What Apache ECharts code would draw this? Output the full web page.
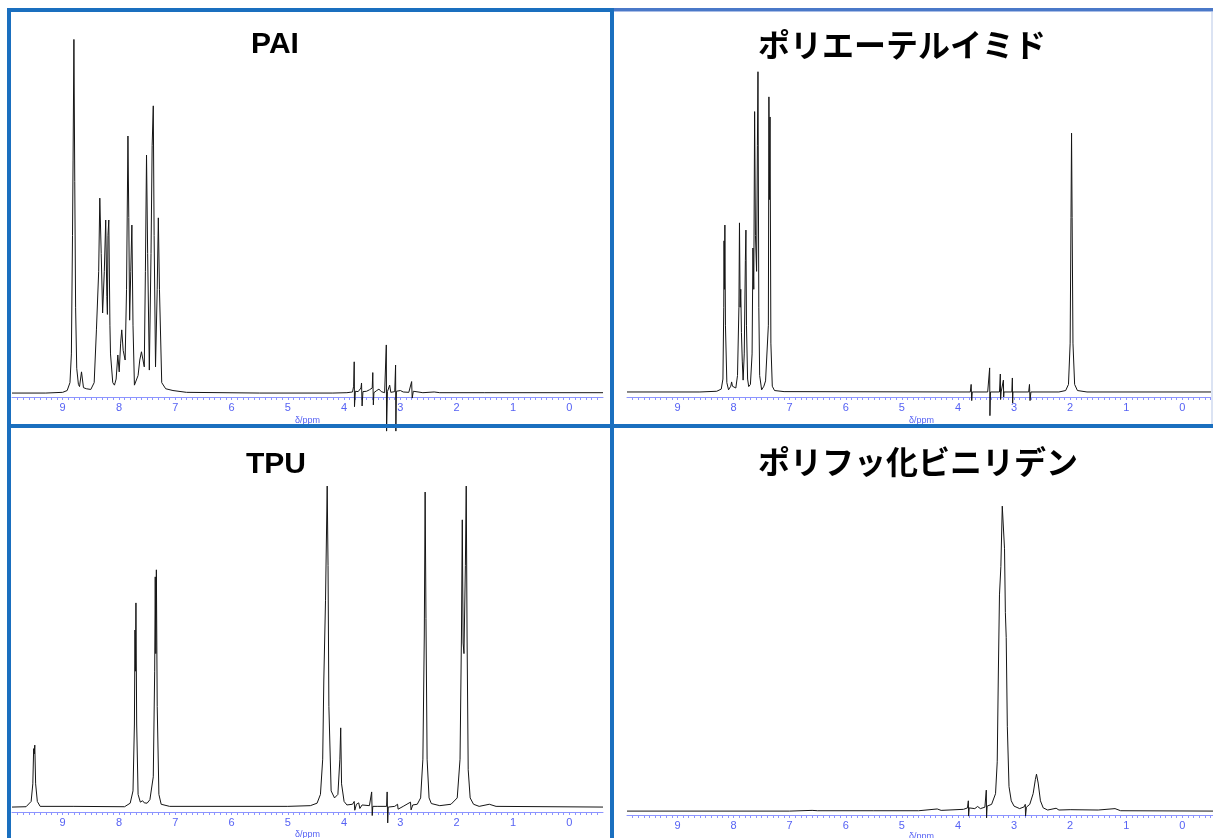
<!DOCTYPE html>
<html>
<head>
<meta charset="utf-8">
<script src="https://cdn.jsdelivr.net/npm/echarts@6/dist/echarts.min.js"></script>
<style>
html,body{margin:0;padding:0;background:#fff;}
#c{width:1213px;height:838px;}
</style>
</head>
<body>
<div id="c"></div>
<script>
// Panel titles
const TITLES = ['PAI', 'ポリエーテルイミド', 'TPU', 'ポリフッ化ビニリデン'];
// Tick labels on the chemical-shift axis (ppm)
const TICK_LABELS = ['0','1','2','3','4','5','6','7','8','9'];
const PPM_MIN = -0.6, PPM_MAX = 9.9;

// [chemical shift (ppm), relative intensity (% of panel height)]
const PAI = [
 [9.9,1.1],[9.3,1.1],[9.0,1.3],[8.92,1.8],[8.87,4],[8.845,12],[8.825,45],[8.815,66],[8.80,99.6],[8.785,60],[8.77,25],[8.75,8],[8.72,3.5],[8.70,2.9],
 [8.665,7.0],[8.63,2.6],[8.58,2.3],[8.50,2.1],[8.44,4],[8.40,18.7],[8.36,35],[8.34,55.4],[8.315,40],[8.29,23.4],[8.26,35],[8.235,49.3],[8.215,28],
 [8.205,23],[8.195,45],[8.18,49.3],[8.16,20],[8.15,12],[8.11,4],[8.08,3.3],[8.05,5],[8.02,11.7],[7.995,7],[7.97,15],[7.95,18.7],[7.925,13],[7.89,10.3],
 [7.865,30],[7.84,72.7],[7.825,50],[7.81,21.4],[7.79,35],[7.77,47.9],[7.75,20],[7.725,3.3],[7.695,2.9],[7.66,6],[7.63,10.3],[7.60,12.6],[7.57,12.6],
 [7.55,8.4],[7.53,35],[7.51,67.4],[7.49,40],[7.46,7.5],[7.43,40],[7.41,70],[7.39,81.1],[7.375,45],[7.35,8.4],[7.32,30],[7.30,49.9],[7.28,30],[7.24,4],
 [7.17,2.3],[7.04,1.8],[6.8,1.3],[5.5,1.1],[4.2,1.1],[3.95,1.2],[3.85,1.4],[3.83,3],[3.82,9.8],[3.815,-2.7],[3.80,1.6],[3.75,1.5],[3.70,2.5],[3.69,3.9],
 [3.68,-2.5],[3.665,1.5],[3.60,1.6],[3.55,2.0],[3.50,2.5],[3.49,6.8],[3.48,-2.2],[3.47,1.2],[3.42,1.8],[3.38,2.2],[3.34,1.5],[3.28,1.2],[3.25,14.5],
 [3.245,-9.5],[3.23,1.5],[3.19,3.3],[3.17,1.3],[3.10,1.5],[3.085,8.9],[3.08,-9.5],[3.07,1.6],[3.00,1.8],[2.95,1.4],[2.85,1.3],[2.80,4.3],[2.79,-0.3],
 [2.77,1.6],[2.74,1.3],[2.6,1.2],[2.4,1.4],[2.37,1.6],[2.3,1.2],[1.5,1.2],[-0.6,1.2]
];
const PEI = [
 [9.9,1.4],[8.6,1.4],[8.3,1.6],[8.22,2.2],[8.19,5],[8.175,25],[8.17,43.5],[8.163,30],[8.155,47.9],[8.145,20],[8.12,4],[8.09,2],[8.05,3],[8.035,4.2],
 [8.02,3],[7.96,2.5],[7.93,6],[7.905,25],[7.895,48.5],[7.883,25],[7.872,30],[7.86,18],[7.845,10],[7.83,4.7],[7.81,12],[7.79,38],[7.78,46.5],[7.77,20],
 [7.75,5],[7.73,2.9],[7.70,3.5],[7.67,12],[7.655,41.5],[7.64,30],[7.625,79.5],[7.61,45],[7.59,35],[7.575,70],[7.565,90.6],[7.55,25],[7.535,6],[7.50,2],
 [7.46,3],[7.43,4.5],[7.40,5],[7.38,20],[7.37,83.6],[7.36,55],[7.35,78],[7.335,15],[7.31,3],[7.27,1.8],[7.1,1.5],[4.0,1.4],[3.78,1.4],[3.765,3.5],
 [3.755,-1],[3.745,1.4],[3.47,1.4],[3.435,8.1],[3.43,-5.2],[3.42,1.4],[3.26,1.4],[3.245,6.4],[3.24,-0.7],[3.23,1.4],[3.20,1.4],[3.19,4.7],[3.185,0],
 [3.18,1.4],[3.04,1.4],[3.03,5.3],[3.025,-1.7],[3.02,1.4],[2.74,1.4],[2.725,3.5],[2.715,-1],[2.70,1.4],[2.2,1.4],[2.08,1.8],[2.03,3.5],[2.0,15],
 [1.985,50],[1.975,73.5],[1.965,50],[1.95,15],[1.92,3.5],[1.87,1.8],[1.7,1.4],[-0.6,1.4]
];
const TPU = [
 [9.9,1.4],[9.65,1.5],[9.56,3],[9.53,8],[9.515,18],[9.505,16.5],[9.495,19],[9.48,8],[9.45,3],[9.40,1.6],[8.8,1.6],[7.9,1.5],[7.80,2.5],[7.75,6],
 [7.725,25],[7.715,51.7],[7.707,40],[7.698,59.4],[7.685,25],[7.66,5],[7.62,2.8],[7.58,3.2],[7.55,2.6],[7.50,2.5],[7.45,3.5],[7.39,10],[7.365,40],
 [7.355,66.8],[7.345,45],[7.335,68.8],[7.32,30],[7.29,5],[7.25,2.2],[7.1,1.6],[5.0,1.6],[4.6,1.8],[4.48,2.5],[4.42,5],[4.38,15],[4.36,37.5],[4.33,60],
 [4.30,92.6],[4.285,70],[4.27,30],[4.23,6],[4.17,4],[4.11,5],[4.075,15],[4.06,23.9],[4.045,8],[4.0,3],[3.95,2],[3.85,2.2],[3.82,3],[3.81,0.5],[3.78,2.2],
 [3.74,2.6],[3.72,1.0],[3.68,2],[3.55,1.8],[3.51,5.7],[3.50,-1],[3.49,1.6],[3.40,1.6],[3.245,1.6],[3.235,5.7],[3.225,-3.1],[3.215,1.4],[3.10,1.6],
 [3.05,2.2],[3.04,0.8],[2.95,1.6],[2.82,2.8],[2.81,0.6],[2.78,2],[2.70,2.2],[2.64,4],[2.60,15],[2.575,50],[2.56,90.9],[2.545,55],[2.525,15],[2.49,4],
 [2.45,2.4],[2.30,1.8],[2.10,2.2],[1.99,4],[1.94,15],[1.915,50],[1.90,83],[1.885,48],[1.87,45],[1.845,70],[1.83,92.6],[1.815,50],[1.795,12],[1.76,4],
 [1.70,2.2],[1.6,1.6],[1.42,2.2],[1.30,1.6],[-0.6,1.4]
];
const PVDF = [
 [9.9,1.1],[7.0,1.1],[6.6,1.3],[6.5,1.2],[5.5,1.2],[4.7,1.2],[4.37,1.7],[4.3,1.3],[3.9,1.6],[3.83,2.0],[3.815,4],[3.81,-0.3],[3.80,2],[3.70,1.8],
 [3.65,2.4],[3.6,1.8],[3.52,2.2],[3.495,7],[3.49,-0.8],[3.48,2.5],[3.40,3],[3.33,6],[3.30,15],[3.28,40],[3.26,62],[3.235,70],[3.21,87],[3.19,87],
 [3.17,75],[3.155,57],[3.14,50],[3.12,25],[3.09,8],[3.05,4],[3.0,2.5],[2.90,1.8],[2.82,2.3],[2.80,3.0],[2.795,-0.3],[2.78,2.2],[2.72,3],[2.66,6],
 [2.62,10],[2.60,11.5],[2.57,9],[2.53,4],[2.48,2],[2.40,1.4],[2.25,1.9],[2.2,1.4],[2.0,1.5],[1.5,1.4],[1.2,1.8],[1.1,1.2],[-0.6,1.1]
];
const SPECTRA = [PAI, PEI, TPU, PVDF];

const GRIDS = [
 {left:12, top:38, width:591, height:359},
 {left:627, top:38, width:589, height:359},
 {left:12, top:460, width:591, height:352},
 {left:627, top:460, width:589, height:355}
];
const NAME_GAPS = [19, 19, 18, 16];
const TITLE_FONT_LATIN = 'bold 30px "Liberation Sans", Arial, sans-serif';
const TITLE_FONT_JP = 'bold 32px "Noto Sans CJK JP", sans-serif';
const TITLE_POS = [[275,45,TITLE_FONT_LATIN],[902,45,TITLE_FONT_JP],[276,465,TITLE_FONT_LATIN],[918,462,TITLE_FONT_JP]];

const AXIS_BLUE = '#8c94ff';
const LABEL_BLUE = '#5662f4';

function labelFor(v){
  const r = Math.round(v);
  if (Math.abs(v - r) < 1e-6) { const t = TICK_LABELS[r]; return t === undefined ? '' : t; }
  return '';
}

const xAxes = GRIDS.map((g,i)=>({
  type:'value', gridIndex:i, inverse:true, min:PPM_MIN, max:PPM_MAX, interval:0.1,
  axisLine:{show:true, onZero:false, lineStyle:{color:AXIS_BLUE, width:1}},
  axisTick:{show:true, length:3, lineStyle:{color:AXIS_BLUE, width:1}},
  axisLabel:{interval:0, hideOverlap:false, showMinLabel:false, showMaxLabel:false, formatter:labelFor,
             color:LABEL_BLUE, fontSize:11, fontFamily:'Liberation Sans, Arial, sans-serif', margin:5},
  splitLine:{show:false},
  name:'δ/ppm', nameLocation:'middle', nameGap:NAME_GAPS[i],
  nameTextStyle:{color:LABEL_BLUE, fontSize:9, fontFamily:'Liberation Sans, Arial, sans-serif'}
}));
const yAxes = GRIDS.map((g,i)=>({type:'value', gridIndex:i, min:0, max:100, show:false}));

const series = SPECTRA.map((d,i)=>({
  type:'line', xAxisIndex:i, yAxisIndex:i, data:d, showSymbol:false, symbol:'none',
  clip:false, smooth:false, lineStyle:{color:'#151515', width:1}, z:2, silent:true
}));

const BORDER = '#1a6fbf';
const graphic = [
  {type:'rect', shape:{x:7,y:8,width:606,height:4}, style:{fill:BORDER}, z:100},
  {type:'rect', shape:{x:613,y:8,width:600,height:3}, style:{fill:'#4a78c8'}, z:100},
  {type:'rect', shape:{x:613,y:11,width:600,height:1}, style:{fill:'#a9bde6'}, z:100},
  {type:'rect', shape:{x:7,y:8,width:4,height:830}, style:{fill:BORDER}, z:100},
  {type:'rect', shape:{x:610,y:8,width:4,height:830}, style:{fill:BORDER}, z:100},
  {type:'rect', shape:{x:7,y:424,width:1206,height:4}, style:{fill:BORDER}, z:100},
  {type:'rect', shape:{x:1211,y:12,width:2,height:412}, style:{fill:'#dbe3f3'}, z:100}
].concat(TITLES.map((t,i)=>({
  type:'text', z:50,
  style:{text:t, x:TITLE_POS[i][0], y:TITLE_POS[i][1], font:TITLE_POS[i][2], fill:'#000',
         textAlign:'center', textVerticalAlign:'middle'}
})));

const chart = echarts.init(document.getElementById('c'), null, {renderer:'canvas'});
chart.setOption({
  animation:false,
  backgroundColor:'#ffffff',
  grid: GRIDS.map(g=>Object.assign({containLabel:false, outerBoundsMode:'none'}, g)),
  xAxis: xAxes,
  yAxis: yAxes,
  series: series,
  graphic: graphic
});
</script>
</body>
</html>
